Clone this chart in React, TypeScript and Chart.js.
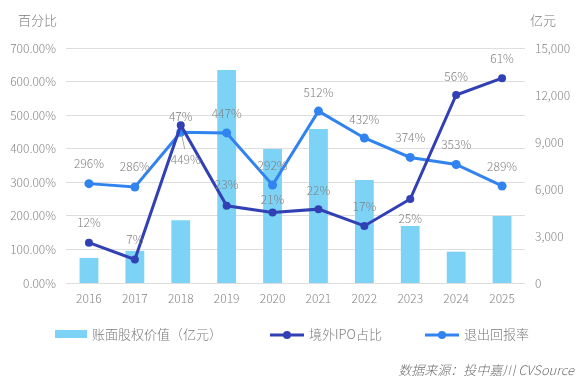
import React, { useEffect, useRef } from "react";
import { Chart, registerables } from "chart.js";

Chart.register(...registerables);

const years = ["2016", "2017", "2018", "2019", "2020", "2021", "2022", "2023", "2024", "2025"];
// 账面股权价值（亿元）
const bookValue = [1600, 2050, 4000, 13600, 8550, 9830, 6570, 3640, 2000, 4280];
// 境外IPO占比 (%)
const ipoShare = [12, 7, 47, 23, 21, 22, 17, 25, 56, 61];
// 退出回报率 (%)
const exitReturn = [296, 286, 449, 447, 292, 512, 432, 374, 353, 289];

const leftTicks = [0, 100, 200, 300, 400, 500, 600, 700];
const rightTicks = [0, 3000, 6000, 9000, 12000, 15000];

// label placement (vertical offset from point, px)
const ipoLabelDy = [-20, -20, -9, -21, -13, -19, -19, 19, -19, -20];
const retLabelDy = [-20, -21, 27, -19, -20, -19, -19, -20, -20, -20];

const BAR = "#7dd3f6";
const DARK = "#3140b5";
const LIGHT = "#3183ef";
const LABEL = "#808080";
const FONT = "'Noto Sans CJK SC', 'Noto Sans', sans-serif";

export default function App() {
  const ref = useRef<HTMLCanvasElement | null>(null);

  useEffect(() => {
    document.body.style.margin = "0";
    const canvas = ref.current!;

    const overlay = {
      id: "overlay",
      afterDatasetsDraw(chart: any) {
        const ctx = chart.ctx;
        ctx.save();
        ctx.font = `300 12px ${FONT}`;
        ctx.fillStyle = LABEL;
        ctx.textAlign = "center";
        ctx.textBaseline = "middle";
        const retMeta = chart.getDatasetMeta(1);
        const ipoMeta = chart.getDatasetMeta(2);
        retMeta.data.forEach((p: any, i: number) => {
          const dy = retLabelDy[i];
          const dx = dy > 0 ? 5 : 0;
          if (dy > 0) {
            ctx.strokeStyle = "#aaaaaa";
            ctx.lineWidth = 1;
            ctx.beginPath();
            ctx.moveTo(p.x + 1, p.y + 3);
            ctx.lineTo(p.x + 4, p.y + dy - 10);
            ctx.stroke();
          }
          ctx.fillText(exitReturn[i] + "%", p.x + dx, p.y + dy);
        });
        ipoMeta.data.forEach((p: any, i: number) => {
          ctx.fillText(ipoShare[i] + "%", p.x, p.y + ipoLabelDy[i]);
        });
        ctx.restore();
      },
      afterDraw(chart: any) {
        const ctx = chart.ctx;
        ctx.save();
        ctx.fillStyle = "#7a7a7a";
        ctx.font = `300 13px ${FONT}`;
        ctx.textBaseline = "middle";
        ctx.textAlign = "left";
        ctx.fillText("百分比", 18, 20);
        ctx.fillText("亿元", 530, 20);

        // legend
        const ly = 334;
        ctx.fillStyle = BAR;
        ctx.fillRect(55, 330, 32, 8);
        ctx.fillStyle = "#7a7a7a";
        ctx.fillText("账面股权价值（亿元）", 92, ly);
        const lineItem = (x: number, color: string, text: string) => {
          ctx.strokeStyle = color;
          ctx.lineWidth = 3;
          ctx.beginPath();
          ctx.moveTo(x, ly + 1);
          ctx.lineTo(x + 34, ly + 1);
          ctx.stroke();
          ctx.fillStyle = color;
          ctx.beginPath();
          ctx.arc(x + 17, ly + 1, 4, 0, Math.PI * 2);
          ctx.fill();
          ctx.fillStyle = "#7a7a7a";
          ctx.fillText(text, x + 39, ly);
        };
        lineItem(270, DARK, "境外IPO占比");
        lineItem(425, LIGHT, "退出回报率");

        ctx.font = `italic 300 13px ${FONT}`;
        ctx.fillStyle = "#707070";
        ctx.textAlign = "right";
        ctx.fillText("数据来源：投中嘉川 CVSource", 574, 370);
        ctx.restore();
      },
    };

    const tickFont = { size: 12, family: FONT, weight: "300" };

    const chart = new Chart(canvas, {
      data: {
        labels: years,
        datasets: [
          {
            type: "bar",
            label: "账面股权价值（亿元）",
            data: bookValue,
            backgroundColor: BAR,
            yAxisID: "yR",
            order: 3,
            barPercentage: 0.41,
            categoryPercentage: 1,
          },
          {
            type: "line",
            label: "退出回报率",
            data: exitReturn,
            borderColor: LIGHT,
            backgroundColor: LIGHT,
            borderWidth: 3,
            pointRadius: 4.5,
            pointBackgroundColor: LIGHT,
            pointBorderWidth: 0,
            yAxisID: "yL",
            order: 2,
            tension: 0,
          },
          {
            type: "line",
            label: "境外IPO占比",
            data: ipoShare.map((v) => v * 10),
            borderColor: DARK,
            backgroundColor: DARK,
            borderWidth: 3,
            pointRadius: 4,
            pointBackgroundColor: DARK,
            pointBorderWidth: 0,
            yAxisID: "yL",
            order: 1,
            tension: 0,
          },
        ],
      } as any,
      options: {
        animation: false,
        responsive: false,
        layout: { padding: { top: 48, left: 0, right: 0, bottom: 0 } },
        plugins: { legend: { display: false }, tooltip: { enabled: false } },
        scales: {
          x: {
            grid: { display: false, drawTicks: false },
            border: { display: false },
            ticks: { color: "#858585", font: tickFont, padding: 8 },
            afterFit(s: any) {
              s.height = 105;
            },
          },
          yL: {
            type: "linear",
            position: "left",
            min: 0,
            max: 700,
            afterBuildTicks(s: any) {
              s.ticks = leftTicks.map((v) => ({ value: v }));
            },
            grid: { color: "#dedede", drawTicks: false, lineWidth: 1 },
            border: { display: false },
            ticks: {
              color: "#858585",
              font: tickFont,
              padding: 10,
              callback: (v: any) => Number(v).toFixed(2) + "%",
            },
            afterFit(s: any) {
              s.width = 66;
            },
          },
          yR: {
            type: "linear",
            position: "right",
            min: 0,
            max: 15000,
            afterBuildTicks(s: any) {
              s.ticks = rightTicks.map((v) => ({ value: v }));
            },
            grid: { display: false, drawTicks: false },
            border: { display: false },
            ticks: {
              color: "#858585",
              font: tickFont,
              padding: 10,
              callback: (v: any) => Number(v).toLocaleString("en-US"),
            },
            afterFit(s: any) {
              s.width = 59;
            },
          },
        },
      } as any,
      plugins: [overlay],
    });
    return () => chart.destroy();
  }, []);

  return <canvas ref={ref} width={584} height={388} style={{ display: "block" }} />;
}
